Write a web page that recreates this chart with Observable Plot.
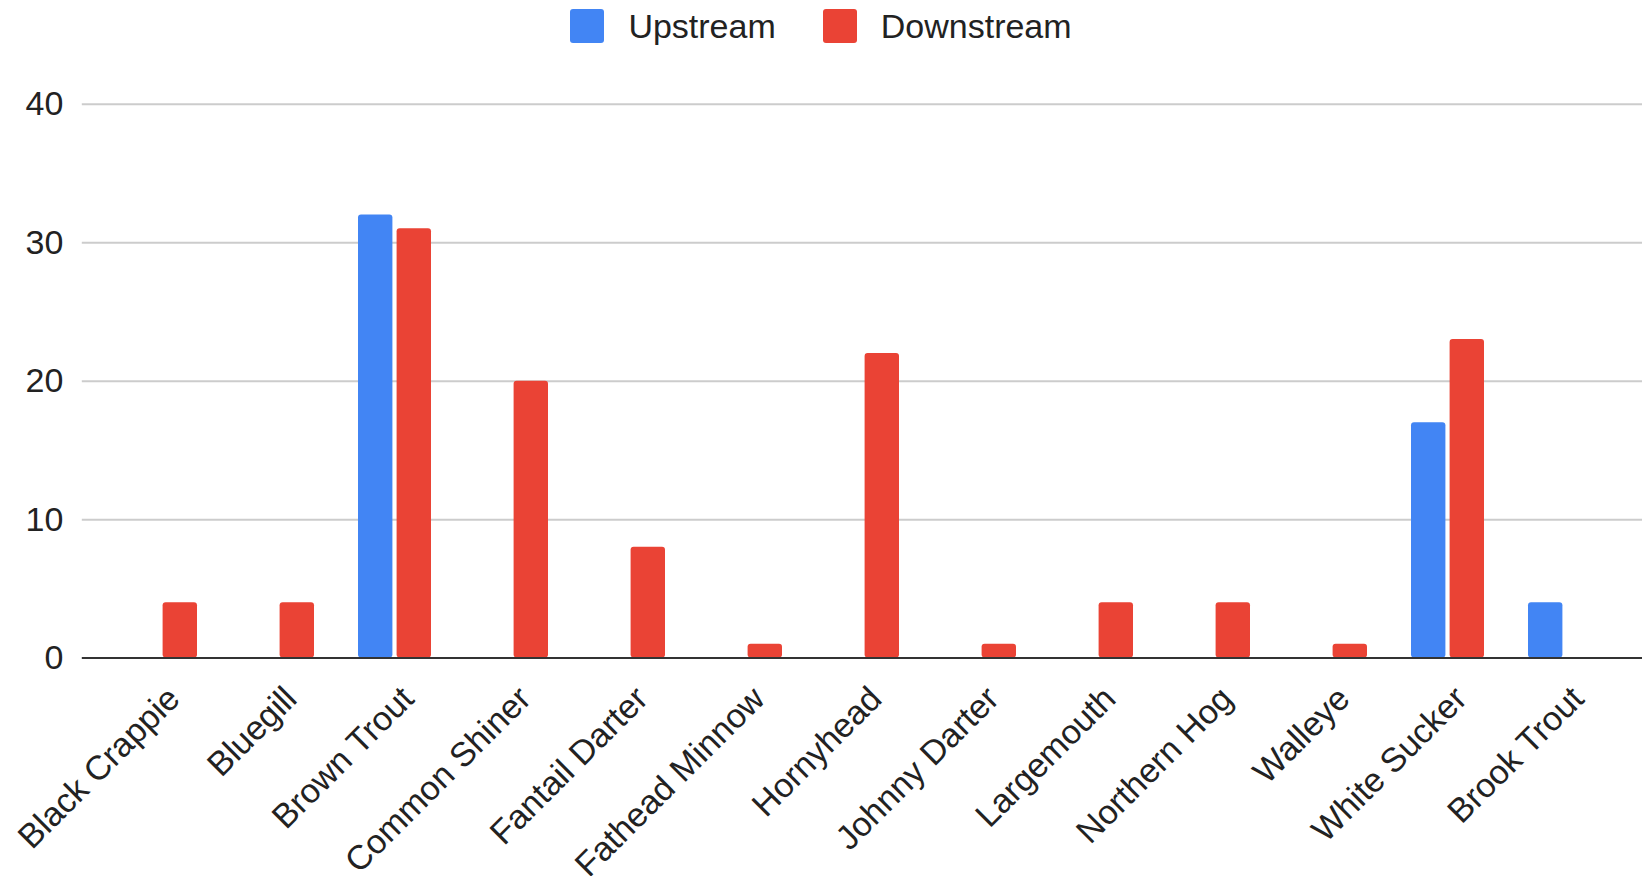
<!DOCTYPE html>
<html>
<head>
<meta charset="utf-8">
<script src="https://cdn.jsdelivr.net/npm/d3@7"></script>
<script src="https://cdn.jsdelivr.net/npm/@observablehq/plot@0.6"></script>
<style>
  html, body { margin: 0; padding: 0; background: #fff; }
  body { width: 1642px; height: 876px; overflow: hidden; font-family: "Liberation Sans", Arial, sans-serif; }
  #legend { height: 52px; display: flex; justify-content: center; align-items: center; font-size: 34px; color: #222; }
  .item { display: flex; align-items: center; }
  .sw { width: 34px; height: 34px; border-radius: 3px; margin-right: 24px; }
  .item + .item { margin-left: 47px; }
  #chart svg { display: block; }
</style>
</head>
<body>
<div id="legend"></div>
<div id="chart"></div>
<script>
const categories = ["Black Crappie", "Bluegill", "Brown Trout", "Common Shiner", "Fantail Darter", "Fathead Minnow", "Hornyhead", "Johnny Darter", "Largemouth", "Northern Hog", "Walleye", "White Sucker", "Brook Trout"];
const upstream   = [0, 0, 32, 0, 0, 0, 0, 0, 0, 0, 0, 17, 4];
const downstream = [4, 4, 31, 20, 8, 1, 22, 1, 4, 4, 1, 23, 0];
const series = ["Upstream", "Downstream"];
const colors = ["#4285F4", "#EA4335"];
const yTicks = [0, 10, 20, 30, 40];

const rows = categories.flatMap((c, i) => [
  {category: c, series: series[0], value: upstream[i]},
  {category: c, series: series[1], value: downstream[i]}
]);

// legend
const legend = document.getElementById("legend");
series.forEach((s, i) => {
  const it = document.createElement("div");
  it.className = "item";
  const sw = document.createElement("div");
  sw.className = "sw";
  sw.style.background = colors[i];
  const t = document.createElement("span");
  t.textContent = s;
  it.appendChild(sw); it.appendChild(t);
  legend.appendChild(it);
});

const chart = Plot.plot({
  width: 1642,
  height: 824,
  marginLeft: 100.8,
  marginRight: 17.5,
  marginTop: 51.7,
  marginBottom: 218.4,
  style: {fontFamily: "'Liberation Sans', Arial, sans-serif", fontSize: "34px", color: "#222", background: "#fff"},
  x: {type: "band", domain: categories, padding: 0},
  y: {domain: [0, 40]},
  color: {domain: series, range: colors},
  marks: [
    Plot.ruleY(yTicks.filter(d => d > 0), {stroke: "#cccccc", strokeWidth: 2, insetLeft: -19, insetRight: -18}),
    Plot.barY(rows.filter(d => d.series === series[0] && d.value > 0), {x: "category", y: "value", fill: "series", insetLeft: 22, insetRight: 60.6, rx: 3}),
    Plot.barY(rows.filter(d => d.series === series[1] && d.value > 0), {x: "category", y: "value", fill: "series", insetLeft: 60.6, insetRight: 22, rx: 3}),
    Plot.ruleY([0], {stroke: "#333", strokeWidth: 2, insetLeft: -19, insetRight: -18}),
    Plot.axisY({ticks: yTicks, tickSize: 0, tickPadding: 38, fontSize: 34, tickFormat: d => String(d), label: null}),
    Plot.axisX({tickSize: 0, tickRotate: -45, tickPadding: 14, dx: 13, dy: 21, fontSize: 34, label: null})
  ]
});
document.getElementById("chart").appendChild(chart);
</script>
</body>
</html>
